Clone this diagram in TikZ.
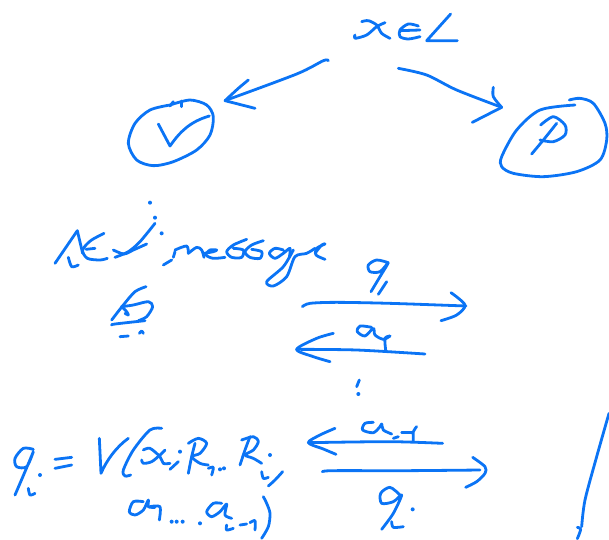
\documentclass[tikz,border=0pt]{standalone}
\definecolor{ink}{HTML}{0B74F5}
\tikzset{inkline/.style={draw=ink,line width=2.8pt,line cap=round,line join=round},
 zoomed/.style={x=0.33333pt,y=-0.33333pt}}
\newcommand\st[1]{\draw[inkline] plot[smooth,tension=0.5] coordinates {#1};}
\newcommand\dt[1]{\fill[ink] #1 circle (6);}
\begin{document}
\begin{tikzpicture}[x=1pt,y=-1pt]
\useasboundingbox (0,0) rectangle (609,539);
% top part
\begin{scope}[shift={(110,0)},zoomed]
\st{(755,65)(775,62)(800,75)(815,100)(840,115)}
\st{(825,68)(800,80)(770,105)(735,115)(735,105)}
\st{(925,78)(895,72)(870,90)(870,110)(895,117)(930,110)}
\st{(870,92)(930,90)}
\draw[inkline] (1022,42)--(950,122)--(1042,122);
\st{(655,182)(640,182)(560,222)(350,300)}
\st{(415,240)(385,265)(345,302)}
\st{(345,302)(435,325)}
\st{(865,205)(950,225)(1040,270)(1175,322)}
\st{(1150,262)(1150,290)(1175,322)}
\st{(1175,322)(1087,367)}
\st{(180,315)(240,300)(290,315)(310,350)(300,405)(260,450)(190,485)(130,497)(80,480)(55,430)(75,370)(120,330)(180,315)}
\st{(180,318)(190,305)}
\st{(215,320)(215,303)}
\draw[inkline] (145,372)--(180,438) .. controls (210,395) and (240,365) .. (298,348);
\st{(1378,300)(1410,295)(1450,310)(1485,370)(1490,420)(1470,480)(1400,515)(1300,530)(1210,520)(1175,500)(1175,470)(1220,390)(1290,330)(1395,315)}
\st{(1340,370)(1300,420)(1265,462)}
\st{(1292,375)(1330,350)(1365,375)(1365,405)(1330,425)(1290,420)}
\end{scope}
% next message
\begin{scope}[shift={(0,170)},zoomed]
\dt{(450,98)}\dt{(465,143)}\dt{(485,190)}
\draw[inkline] (165,280)--(232,182)--(248,250);
\st{(312,190)(272,212)(248,240)(262,265)(300,270)(322,265)}
\st{(258,238)(285,235)}
\st{(205,262)(215,290)(235,285)}
\st{(465,160)(420,215)(385,245)(345,262)}
\st{(340,240)(372,252)(400,240)(440,222)}
\st{(490,285)(515,270)}
\st{(520,262)(525,245)}
\st{(525,240)(560,228)(565,250)}
\st{(565,250)(590,232)(605,240)(612,262)}
\st{(612,250)(640,245)(650,240)(630,240)(618,255)(640,265)(675,262)}
\st{(740,208)(700,225)(680,245)(695,262)(725,262)(730,240)(700,235)}
\st{(790,212)(755,225)(735,245)(750,262)(780,265)(785,245)(755,238)}
\st{(850,240)(825,235)(808,250)(825,265)(850,250)(870,235)(868,262)}
\st{(880,240)(850,290)(800,335)(820,348)(860,320)(885,260)(920,250)(945,235)}
\st{(945,250)(965,225)(975,222)(950,235)(948,255)(975,268)}
\st{(438,350)(405,365)(370,405)(335,450)}
\st{(365,410)(400,405)(445,395)(458,410)(440,440)(415,452)}
\st{(365,410)(380,425)(385,435)(375,430)}
\st{(335,465)(345,462)(435,452)}
\st{(360,500)(385,498)}
\st{(418,490)(425,483)(430,490)}
\end{scope}
% formula
\begin{scope}[shift={(0,400)},zoomed]
\st{(100,148)(70,145)(45,175)(50,200)(80,200)(100,155)(75,215)(45,285)}
\st{(85,265)(90,285)(105,280)}
\dt{(120,225)}
\st{(165,178)(215,172)}
\st{(165,205)(215,195)}
\draw[inkline] (298,115)--(303,220) .. controls (320,180) and (350,140) .. (385,115);
\st{(485,85)(450,90)(400,150)(370,210)(375,228)(392,225)}
\st{(430,150)(450,145)(480,170)(490,190)(510,190)}
\st{(495,150)(480,165)(455,185)(430,190)(425,180)}
\dt{(540,155)}
\st{(535,185)(510,208)}
\st{(585,130)(575,170)(565,220)}
\st{(565,130)(595,115)(620,130)(600,160)(575,170)(600,190)(625,195)}
\st{(625,205)(640,202)(635,225)}
\dt{(660,208)}\dt{(672,205)}
\st{(750,110)(735,150)(720,195)}
\st{(725,120)(760,110)(775,125)(760,150)(735,165)(760,175)(785,190)}
\st{(785,215)(790,235)(805,232)}
\dt{(810,165)}
\st{(848,215)(825,240)(805,258)}
\st{(430,305)(400,305)(388,335)(405,345)(430,330)(445,300)(445,320)(465,322)}
\st{(450,320)(480,320)(478,360)}
\dt{(515,365)}\dt{(530,365)}\dt{(548,365)}\dt{(600,370)}
\st{(665,310)(640,310)(620,335)(635,350)(660,335)(680,312)(675,345)(695,355)}
\st{(680,375)(680,390)(700,385)}
\st{(720,375)(740,372)}
\st{(750,368)(765,362)(765,390)}
\st{(790,290)(800,310)(810,340)(805,380)(785,415)}
\end{scope}
% message arrows
\begin{scope}[shift={(290,250)},zoomed]
\st{(295,38)(260,30)(235,45)(240,65)(270,65)(295,38)(270,80)(243,125)}
\st{(290,95)(265,133)}
\st{(37,170)(60,160)(140,157)(300,160)(528,168)}
\st{(483,128)(525,165)(500,195)(453,212)}
\st{(245,232)(210,228)(202,245)(225,258)(250,235)(255,255)(280,268)(300,258)}
\st{(300,258)(285,265)(287,300)}
\st{(405,312)(200,300)(20,298)}
\st{(130,250)(80,265)(20,298)(70,320)(120,335)}
\st{(208,390)(200,410)}
\dt{(205,432)}
\st{(250,517)(225,520)(218,540)(250,548)(270,530)(275,522)(280,540)(305,552)}
\st{(310,565)(325,560)}
\st{(335,547)(365,547)}
\st{(380,530)(370,545)(370,572)}
\st{(458,580)(300,575)(55,578)}
\st{(135,535)(90,555)(55,578)(100,597)(138,613)}
\st{(97,665)(130,662)(350,662)(570,660)}
\st{(548,622)(585,650)(585,670)(560,695)(527,712)}
\st{(330,735)(300,712)(272,730)(275,760)(310,755)(335,735)(310,790)(275,838)}
\st{(305,815)(310,832)(340,830)}
\dt{(368,778)}
\st{(957,490)(920,620)(885,750)(875,830)}
\st{(862,832)(872,838)(862,866)}
\end{scope}
\end{tikzpicture}
\end{document}
